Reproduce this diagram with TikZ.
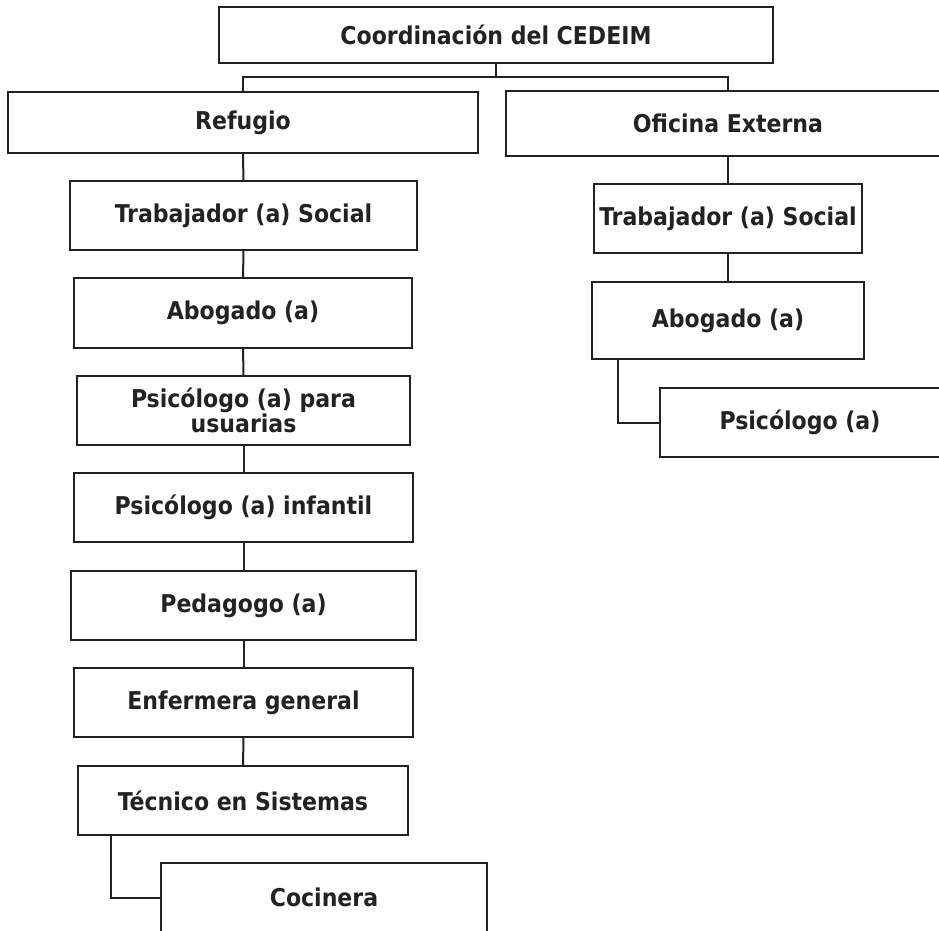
\documentclass[tikz,border=0pt]{standalone}
\usepackage{fontspec}
\setmainfont{DejaVu Sans Condensed}
\definecolor{trazo}{HTML}{222222}

\begin{document}
\begin{tikzpicture}[
			x=1pt, y=-1pt,
			unit/.style={rectangle, draw=trazo, line width=2pt, fill=white, text=trazo, align=center, inner sep=2pt, font=\bfseries\fontsize{24.5}{25.5}\selectfont},
			line/.style={draw=trazo, line width=2pt}
		]
		\useasboundingbox (0,0) rectangle (939,930);

		% --- DIRECCION ---
		\node (coord) [unit, minimum width=554pt, minimum height=56pt] at (496,35) {Coordinación del CEDEIM};
		\coordinate (bus) at (496,77);

		% --- AREAS ---
		\node (refugio) [unit, minimum width=470pt, minimum height=61pt] at (243,122.5) {Refugio};
		\node (oficina) [unit, minimum width=444pt, minimum height=65pt] at (728,123.5) {Oficina Externa};

		% --- PERSONAL DEL REFUGIO ---
		\node (ts_ref) [unit, minimum width=347pt, minimum height=69pt] at (243.5,215.5) {Trabajador (a) Social};
		\node (ab_ref) [unit, minimum width=338pt, minimum height=70pt] at (243,313) {Abogado (a)};
		\node (ps_usu) [unit, minimum width=333pt, minimum height=69pt] at (243.5,410.5) {Psicólogo (a) para\\usuarias};
		\node (ps_inf) [unit, minimum width=339pt, minimum height=69pt] at (243.5,507.5) {Psicólogo (a) infantil};
		\node (ped) [unit, minimum width=345pt, minimum height=69pt] at (243.5,605.5) {Pedagogo (a)};
		\node (enf) [unit, minimum width=339pt, minimum height=69pt] at (243.5,702.5) {Enfermera general};
		\node (tec) [unit, minimum width=330pt, minimum height=69pt] at (243,800.5) {Técnico en Sistemas};
		\node (coc) [unit, minimum width=326pt, minimum height=69pt] at (324,897.5) {Cocinera};

		% --- PERSONAL DE LA OFICINA EXTERNA ---
		\node (ts_ofi) [unit, minimum width=268pt, minimum height=69pt] at (728,218.5) {Trabajador (a) Social};
		\node (ab_ofi) [unit, minimum width=272pt, minimum height=77pt] at (728,320.5) {Abogado (a)};
		\node (ps_ofi) [unit, minimum width=280pt, minimum height=69pt] at (800,422.5) {Psicólogo (a)};

		% --- CONEXIONES ---
		% Direccion a areas
		\draw [line] (coord) -- (bus);
		\draw [line] (refugio.north) |- (bus) -| (oficina.north);

		% Refugio
		\draw [line] (refugio) -- (ts_ref);
		\draw [line] (ts_ref) -- (ab_ref);
		\draw [line] (ab_ref) -- (ps_usu);
		\draw [line] (ps_usu) -- (ps_inf);
		\draw [line] (ps_inf) -- (ped);
		\draw [line] (ped) -- (enf);
		\draw [line] (enf) -- (tec);
		\draw [line] ([xshift=34pt]tec.south west) |- (coc.west);

		% Oficina Externa
		\draw [line] (oficina) -- (ts_ofi);
		\draw [line] (ts_ofi) -- (ab_ofi);
		\draw [line] ([xshift=27pt]ab_ofi.south west) |- (ps_ofi.west);
	\end{tikzpicture}
\end{document}
